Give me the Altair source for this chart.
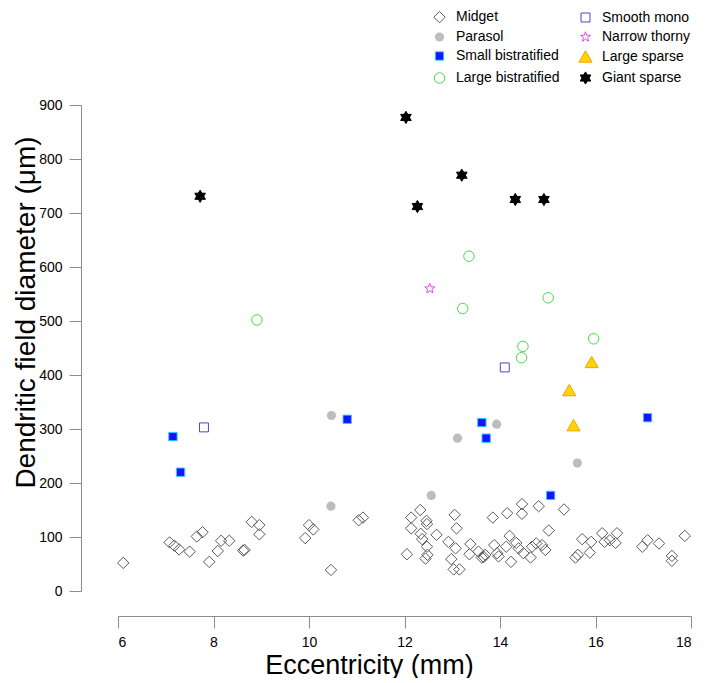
import math
import altair as alt
import pandas as pd

# ---- data ----
midget_x = [6.11, 7.08, 7.18, 7.28, 7.50, 7.65, 7.77, 7.91, 8.09, 8.16, 8.33, 8.62, 8.65,
            8.80, 8.96, 8.96, 9.92, 10.00, 10.09, 10.46, 11.04, 11.13, 12.05, 12.14, 12.14,
            12.33, 12.46, 12.47, 12.34, 12.37, 12.47, 12.48, 12.44, 12.67, 13.05, 13.09,
            12.92, 13.07, 12.98, 13.03, 13.15, 13.38, 13.36, 13.55, 13.62, 13.69, 13.66,
            13.85, 14.15, 14.46, 14.46, 14.81, 15.34, 13.88, 13.94, 13.97, 14.20, 14.13,
            14.23, 14.34, 14.39, 14.49, 14.64, 14.67, 14.76, 14.88, 14.95, 15.02, 15.58,
            15.63, 15.72, 15.88, 15.91, 16.14, 16.19, 16.30, 16.42, 16.45, 16.98, 17.09,
            17.33, 17.60, 17.60, 17.87]
midget_y = [52, 90, 84, 77, 73, 101, 109, 54, 74, 93, 93, 75, 76,
            128, 122, 105, 98, 122, 114, 39, 131, 136, 68, 136, 116,
            150, 130, 124, 106, 96, 82, 67, 60, 104, 141, 116,
            91, 79, 59, 40, 40, 87, 68, 73, 62, 67, 63,
            136, 144, 161, 143, 157, 151, 85, 70, 64, 102, 82,
            54, 89, 79, 70, 62, 82, 88, 85, 76, 112, 62,
            67, 96, 71, 91, 107, 91, 94, 89, 107, 82, 94,
            88, 65, 56, 102]

parasol_x = [10.47, 10.46, 12.56, 13.11, 13.93, 15.62]
parasol_y = [325, 157, 177, 283, 309, 237]

small_bi_x = [7.15, 7.31, 10.80, 13.62, 13.71, 15.06, 17.09]
small_bi_y = [286, 220, 318, 312, 283, 177, 321]

large_bi_x = [8.91, 13.35, 13.22, 15.01, 15.96, 14.48, 14.45]
large_bi_y = [502, 620, 523, 543, 467, 453, 432]

smooth_x = [7.80, 14.10]
smooth_y = [303, 414]

thorny_x = [12.53]
thorny_y = [560]

large_sp_x = [15.92, 15.45, 15.54]
large_sp_y = [424, 372, 307]

giant_x = [7.72, 12.03, 13.20, 12.27, 14.32, 14.92]
giant_y = [731, 877, 770, 712, 725, 725]

x_ticks = [6, 8, 10, 12, 14, 16, 18]
y_ticks = [0, 100, 200, 300, 400, 500, 600, 700, 800, 900]

groups = [
    ("Midget", midget_x, midget_y),
    ("Parasol", parasol_x, parasol_y),
    ("Small bistratified", small_bi_x, small_bi_y),
    ("Large bistratified", large_bi_x, large_bi_y),
    ("Smooth mono", smooth_x, smooth_y),
    ("Narrow thorny", thorny_x, thorny_y),
    ("Large sparse", large_sp_x, large_sp_y),
    ("Giant sparse", giant_x, giant_y),
]
rows = []
for name, xs, ys in groups:
    for a, b in zip(xs, ys):
        rows.append({"type": name, "ecc": a, "dfd": b})
df = pd.DataFrame(rows)

# ---- styling ----
def star_path(n, inner):
    pts = []
    for k in range(2 * n):
        ang = math.radians(-90 + 180.0 / n * k)
        r = 1.0 if k % 2 == 0 else inner
        pts.append(f"{r*math.cos(ang):.3f},{r*math.sin(ang):.3f}")
    return "M" + "L".join(pts) + "Z"

hexagram = "M0,-1L0.866,0.5L-0.866,0.5ZM0,1L-0.866,-0.5L0.866,-0.5Z"
pentastar = star_path(5, 0.42)

# legend order (filled column by column, 4 rows)
order = [g[0] for g in groups]
style = {
    "Midget":             ("diamond",     "transparent", "#5a5a5a", 130),
    "Smooth mono":        ("square",      "transparent", "#4848cc", 80),
    "Parasol":            ("circle",      "#bdbdbd",     "transparent", 85),
    "Narrow thorny":      (pentastar,     "transparent", "#ee44ee", 110),
    "Small bistratified": ("square",      "#1414ff",     "#33ccff", 70),
    "Large sparse":       ("triangle-up", "#ffd700",     "#ff9a00", 170),
    "Large bistratified": ("circle",      "transparent", "#44dd44", 110),
    "Giant sparse":       (hexagram,      "#000000",     "#000000", 150),
}
shapes = [style[k][0] for k in order]
fills = [style[k][1] for k in order]
strokes = [style[k][2] for k in order]
sizes = [style[k][3] for k in order]

FONT = "Liberation Sans"

leg = alt.Legend(title=None, orient="none", legendX=314, legendY=-95, columns=2,
                 columnPadding=16, rowPadding=4, labelFontSize=14, labelFont=FONT,
                 labelColor="#000000", symbolStrokeWidth=1, labelOffset=9, padding=0)

chart = alt.Chart(df).mark_point(opacity=1, strokeWidth=1, filled=False).encode(
    x=alt.X("ecc:Q",
            scale=alt.Scale(domain=[6, 18], nice=False, zero=False),
            axis=alt.Axis(values=x_ticks, title="Eccentricity (mm)", grid=False, offset=25,
                          tickSize=12, labelPadding=7, labelFontSize=14, labelFont=FONT,
                          labelColor="#000000", domainColor="#8c8c8c", tickColor="#8c8c8c",
                          titleFont=FONT, titleFontSize=27, titleFontWeight="normal",
                          titleColor="#000000", titleX=251, titleY=57,
                          titleBaseline="alphabetic", titleAlign="center")),
    y=alt.Y("dfd:Q",
            scale=alt.Scale(domain=[0, 900], nice=False),
            axis=alt.Axis(values=y_ticks, title="Dendritic field diameter (μm)", grid=False,
                          offset=37, tickSize=12, labelPadding=7, labelFontSize=14,
                          labelFont=FONT, labelColor="#000000", domainColor="#8c8c8c",
                          tickColor="#8c8c8c", titleFont=FONT, titleFontSize=28,
                          titleFontWeight="normal", titleColor="#000000", titleX=-47,
                          titleY=207, titleAngle=270, titleBaseline="alphabetic",
                          titleAlign="center")),
    shape=alt.Shape("type:N", scale=alt.Scale(domain=order, range=shapes), legend=leg),
    fill=alt.Fill("type:N", scale=alt.Scale(domain=order, range=fills), legend=leg),
    stroke=alt.Stroke("type:N", scale=alt.Scale(domain=order, range=strokes), legend=leg),
    size=alt.Size("type:N", scale=alt.Scale(type="ordinal", domain=order, range=sizes), legend=leg),
).properties(
    width=573, height=486,
    autosize=alt.AutoSizeParams(type="none"),
    padding={"left": 110, "top": 97, "right": 7, "bottom": 87},
).configure_view(stroke=None)

chart.save("out.html", embed_options={"renderer": "svg", "actions": False})
